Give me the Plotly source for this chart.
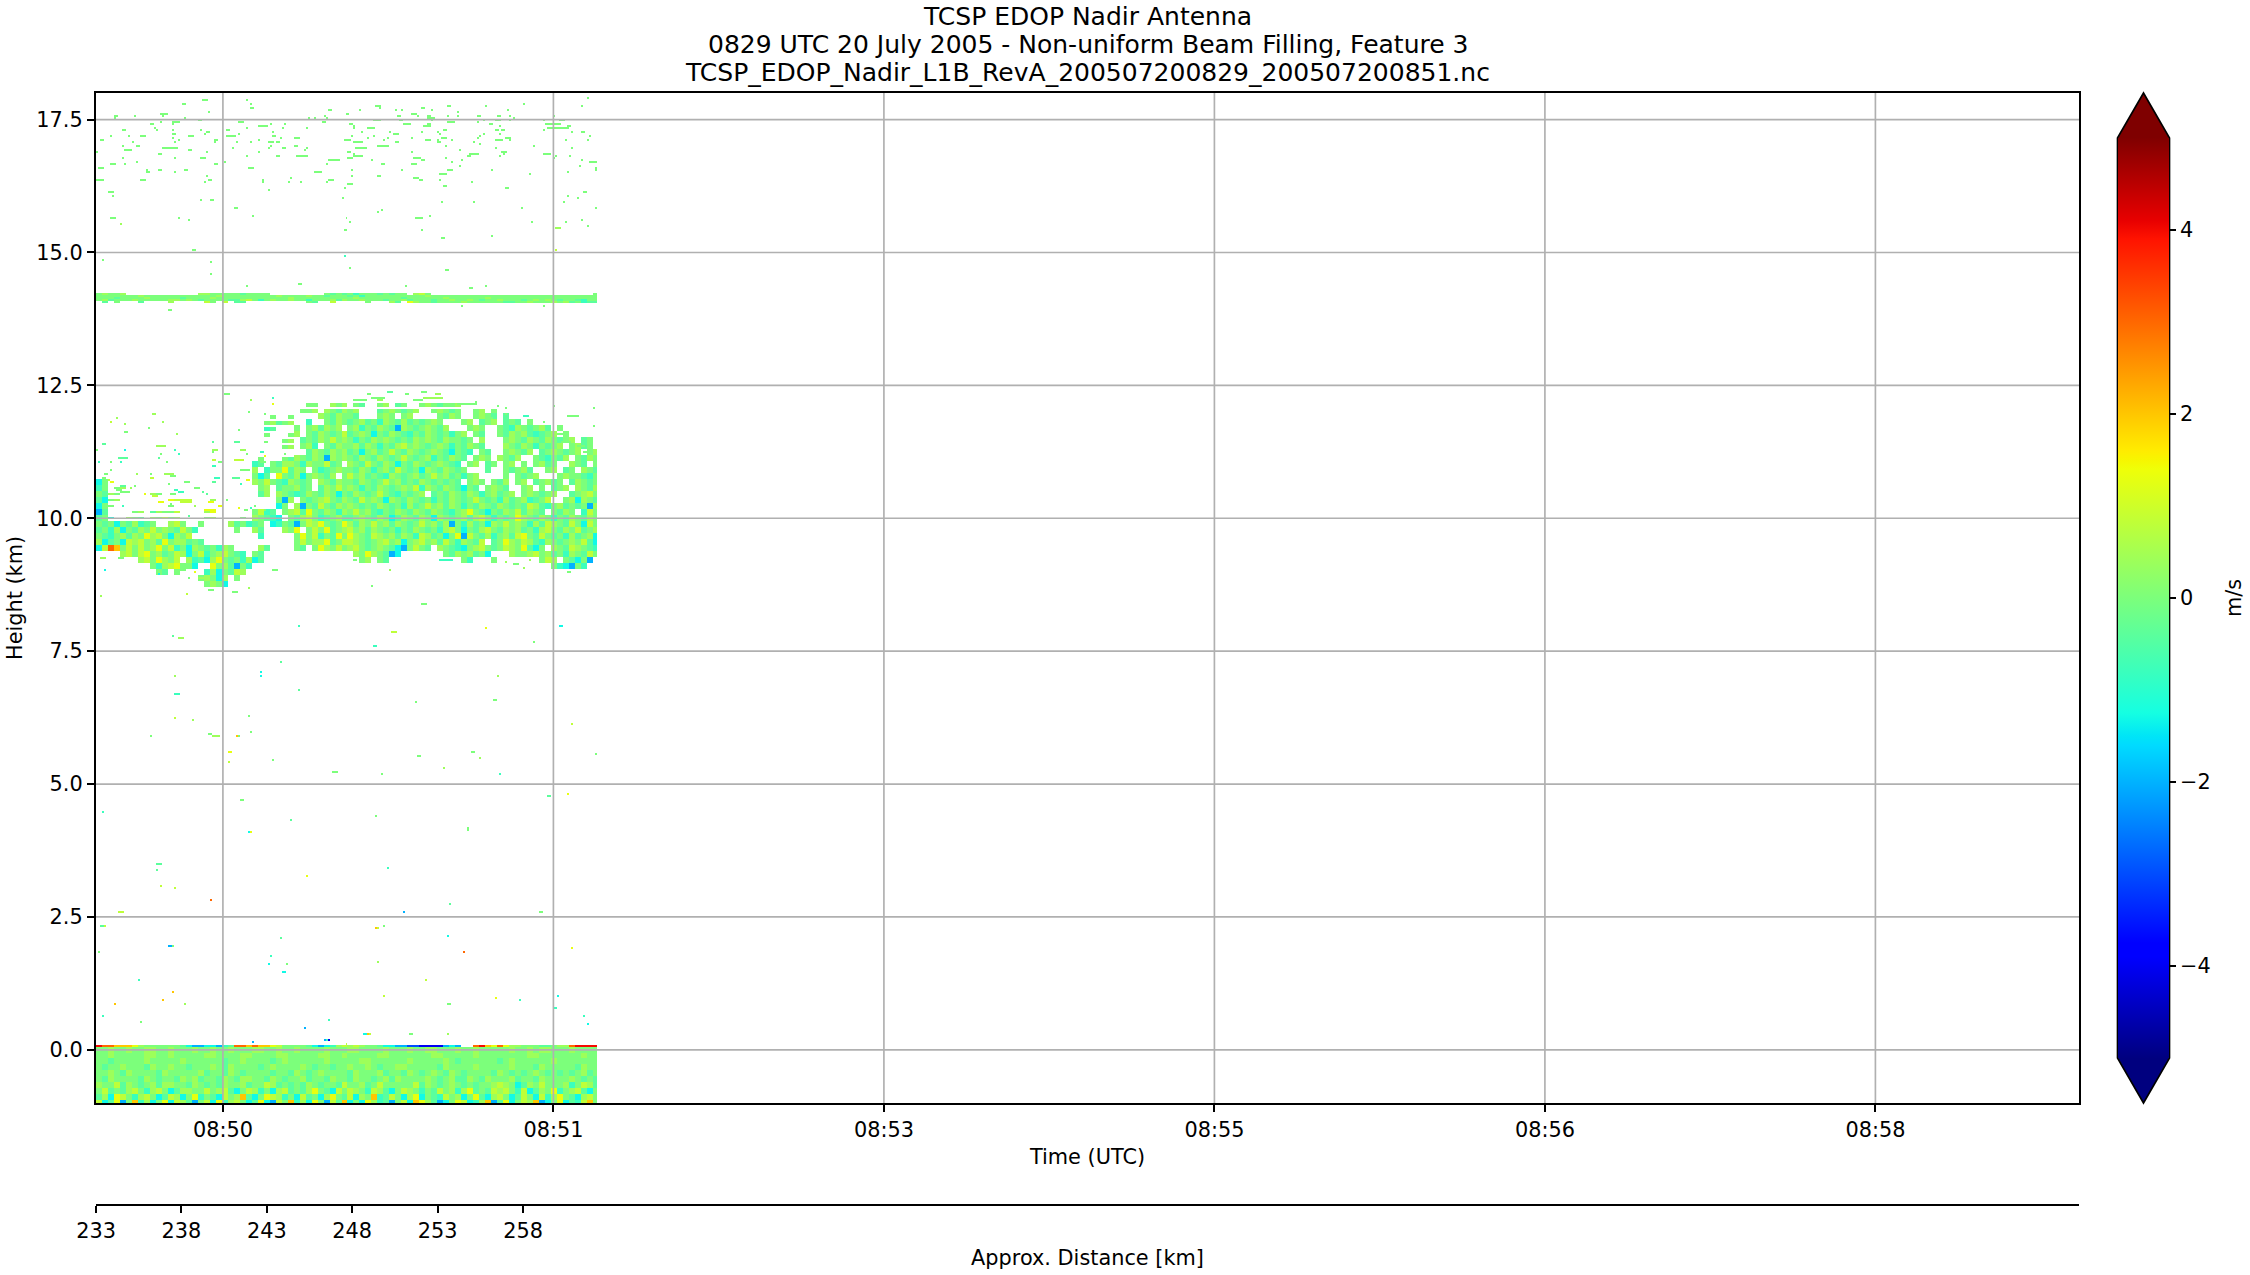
import numpy as np
import plotly.graph_objects as go

# ---- axis labels -----
TITLE_LINES = ["TCSP EDOP Nadir Antenna",
               "0829 UTC 20 July 2005 - Non-uniform Beam Filling, Feature 3",
               "TCSP_EDOP_Nadir_L1B_RevA_200507200829_200507200851.nc"]
TIME_TICK_SECONDS = [0, 100, 200, 300, 400, 500]
TIME_TICK_LABELS = ["08:50", "08:51", "08:53", "08:55", "08:56", "08:58"]
DIST_TICKS = [233, 238, 243, 248, 253, 258]
HEIGHT_TICKS = [0, 2.5, 5, 7.5, 10, 12.5, 15, 17.5]
CBAR_TICKS = [-4, -2, 0, 2, 4]

# ---- velocity codes, m/s, used by the tables below -----
CODE_VALUE = {"n": -4.0, "b": -3.0, "c": -2.0, "d": -1.3, "e": -0.8, "f": -0.4, "g": 0.0,
              "h": 0.4, "i": 0.8, "j": 1.3, "k": 2.0, "l": 3.0, "m": 4.0}

# Cloud body in blocks of 3 radar columns x 3 gates: (block row, block col, codes)
CLOUD_RUNS_LEFT = [
 (2,35,"gg"),(2,39,"hgh"),(3,34,"ggh"),(3,38,"hgfh"),(4,29,"g"),(4,32,"g"),(4,37,"hgfhg"),
 (5,28,"gh"),(5,30,"fgh"),(5,35,"e"),(5,38,"gfhg"),(6,28,"ef"),(6,33,"g"),(6,35,"gh"),(6,37,"fhgh"),
 (7,28,"g"),(7,32,"gh"),(7,35,"gfhgfgi"),(8,31,"g"),(8,32,"h"),(8,34,"fgfhgigh"),
 (9,31,"gh"),(9,34,"ghe"),(9,38,"gfhg"),(10,35,"fhgfhgh"),(11,27,"g"),(11,31,"gf"),(11,33,"hgfhgchgh"),
 (12,26,"ef"),(12,29,"gfh"),(12,32,"hgehg"),(12,37,"gifg"),(13,26,"h"),(13,28,"eg"),(13,30,"gjfhg.gefghg"),
 (14,26,"gdf"),(14,30,"jgfhdghgfh.g"),(15,26,"hgi"),(15,29,"gfehgfg.hgfhg"),(16,27,"gh"),(16,30,"fg"),(16,32,"ghfg.fhgig"),
 (17,27,"fh"),(17,30,"hgfefhgfhgdg"),(18,30,"gch.gfghigfh"),(19,30,"dg.hcgfigfhg"),(20,26,"gi"),(20,28,"ef"),(20,31,"ghifjgfhgeh"),
 (21,24,"g"),(21,26,"hgf"),(21,29,"ed"),(21,32,"gfhigefghf"),(22,22,"hfg"),(22,25,"ef"),(22,27,"g"),(22,29,"de"),(22,31,"gfcgihjgfgj"),
 (23,23,"g"),(23,26,"hf"),(23,31,"hgj.gigjfgh"),(24,27,"e"),(24,33,"gjgiegfjg"),(25,33,"gi"),(25,35,"gh"),(25,37,"hjfgi"),
 (26,27,"hf"),(26,33,"gf.gjhgig"),
 (15,0,"dg"),(16,0,"eg"),(16,3,"gh"),(17,0,"gf"),(17,2,"hg"),(17,9,"hg"),(18,0,"fd"),(18,2,"gh"),(18,12,"jhgi"),(18,19,"h"),
 (19,0,"dg"),(19,2,"g"),(19,12,"g"),(20,0,"cf"),(20,6,"gh"),(20,9,"fhg"),(20,12,"gi"),(20,18,"h"),(20,19,"j"),
 (21,0,"fgd"),(21,5,"hgf"),(21,9,"hgig"),(21,13,"h"),(21,18,"gh"),(22,0,"gfgdgfhe"),(22,8,"fg"),(22,12,"hie"),(22,14,"g"),(22,17,"g"),
 (23,0,"fgehdgfhgi"),(23,10,"ghgfig"),(23,16,"e"),(24,0,"gfeghfhgjhigdhgi"),(25,0,"hdfgdihighfjghhfg"),(25,17,"f"),
 (26,0,"di"),(26,2,"l"),(26,3,"kgigighjgiegdhg"),(26,18,"fgeh"),(26,22,"g"),(27,4,"higijghfgihdgieg"),(27,20,"hig"),(27,23,"fe.gf"),
 (28,7,"higjhgi.he"),(28,17,"fdhjg"),(28,22,"fgehd"),(28,27,"f"),(29,9,"gehijggd"),(29,19,"jghfcg"),(29,25,"e"),
 (30,10,"gf"),(30,13,"g"),(30,18,"e"),(30,19,"hdgfih"),(31,17,"g"),(31,18,"hgd"),(31,21,"h"),(31,23,"g"),(32,18,"ghgd"),
]
CLOUD_RUNS_RIGHT = [
 (2,"gf",43),(2,"gh",47),(2,"fg",50),(2,"ghgfggh",54),(3,"gh",42),(3,"fghgfgh",47),(3,"ghgfg",56),(3,"gh",63),(3,"g",66),
 (4,"gf",42),(4,"ghg",47),(4,"gh",51),(4,"gfhg",57),(4,"ghgf",63),(4,"f",68),
 (5,"fghfgehgfhfgfghg",42),(5,"gh",61),(5,"fgh",64),(5,"fgf",68),(5,"g",72),
 (6,"ghegfhgfchgfghgfh",42),(6,"ghg",62),(6,"gfehgfghf",67),(6,"g",77),
 (7,"fghgdgfhgfegfhgfgegh",42),(7,"gf",63),(7,"gfhghfefgh",67),(7,"g",78),
 (8,"gegfhghgfgfhghgfhggfg",42),(8,"h",64),(8,"ghgfhgfhgfgh",68),(8,"fg",81),
 (9,"ghfhgegfhighgfghgegfhgf",42),(9,"hgfhgegfgh",68),(9,"ghfg",79),
 (10,"fgdghfgigfhgfghgfdgfe",42),(10,"gf",64),(10,"ghgfh",68),(10,"fghgfgh",74),(10,"gh",82),
 (11,"gfhgfhgfgigfghegfhgf",42),(11,"ghg",63),(11,"hgfh",67),(11,"gfegfh",73),(11,"gfhg",80),
 (12,"hgfigfhgdgfhgfghgfe",42),(12,"gh",62),(12,"fg",65),(12,"gh",68),(12,"g",71),(12,"ghfg",73),(12,"hgf",79),(12,"g",83),
 (13,"gfhgeghfigfgdhgfhgfg",42),(13,"f",65),(13,"gfghf",68),(13,"gh",75),(13,"fg",78),(13,"hgf",81),
 (14,"ighfgfehgfghfgighfgegh",42),(14,"g",68),(14,"gfgh",70),(14,"ghg",77),(14,"gfeg",80),
 (15,"gfhgfgighfgfhgfgfgf",42),(15,"ghg",62),(15,"gfh",66),(15,"gh",70),(15,"fghfg",73),(15,"fhgfg",79),
 (16,"hgegfhgfghgiehgfhgfdgf",42),(16,"ghgf",65),(16,"gh",71),(16,"g",74),(16,"fgh",76),(16,"hgfh",80),
 (17,"fhgfgigfegfgh",42),(17,"fgfhgfhgeghfgh",56),(17,"ghgfgh",71),(17,"fghig",79),
 (18,"gfighgdhgfhgfgegfhgfgigfgehfghefgi",42),(18,"ghdhgf",78),
 (19,"hgfgfhgfgehfgighfhgegfhgfhgfgfihfeghfgfgch",42),
 (20,"gighfegfhgfhgfhgfeghjgfdgfhgifhgf",42),(20,"gfhg",76),(20,"eig",81),
 (21,"fghgfhgdfhgfhgdhgfghfhigegfgjhgfhgegfhgfhg",42),
 (22,"hfhgighfhgfgighfhcgehfgdhgighgehfihgfigdig",42),
 (23,"ighfhgfgegfhgfgehigdgfhigfhghfgehigfhgifgh",42),
 (24,"jhgfihghfhgeihfgdgjcigfheghfijgfigfgehfghd",42),
 (25,"ihgfghighdghighfigehgfi",42),(25,"fgjhgihfehgfghgifd",66),
 (26,"higfghgfdcgigf",42),(26,"hgfedghigfgihgjfdg",57),(26,"hgfihgfe",76),
 (27,"hgjhgfcd",43),(27,"gfhghfgd",58),(27,"hgghighfgehgfig",69),
 (28,"gh",44),(28,"gf",47),(28,"ge",61),(28,"g",66),(28,"gih",74),(28,"gfdgc",78),
 (29,"gedcge",76),
]

# Ground return: one block row per list, top to bottom; each character is 3 radar columns
GROUND_STRIP = "mllkkkjhggggggfdccddcefllklkkjiggggfdcdehihihggfddccbbnnnncdc..lmkjljhhgggffghhlmmmmg"
GROUND_ROWS = [
 "gghgghgghhgghggghgghgghggghhgghgghgggghggghhgggghggghgghhggghgghggggghgghghhggghgggg",
 "gghggggghhgghggggghhgggghhgggghhggggghhgghggggghhggggggghhggggghgggggggghhggggggghgg",
 "ggfggggghggggghggggggfgghggggfghgggggghggggghhgggggghggggghgfggggggfghgggggghggggggg",
 "gfgghgggfhgghggfggghgfhggggfghgggghgfggfgghgghgfgghhgggggfhgggghggggghgggfhgggggfhgg",
 "gghgfhggggfhggggghfggfhgfggggfggfhgfghggggfhggghfggfhgfghgfhgfggggfhgfgfghgfgfgfghfg",
 "gfhggggfhgfggfhghfggfhgfhhggfhgfgghfggfhggfhggfghfhgggghgfghffhgfhggghfggfhgggghgfgf",
 "hggifhgfghfhhggfhgfgfhgghfggihfgfgfhgfggfigghfgigggggifhgfghgfgfgghihgdfhgiggghegihf",
 "gifgfhigehigdfhhggighifdgihegdhifgfhjgfdigihgeihfdgihgegfighehjfgfihigeidfhgjeghifdg",
 "fhdjigehigdfihdgjegfdighkfdgjihegdifgdhjgfidhgkefigdhjdgfeighdgjfdhigdfigdiehjgfdhig",
 "idfjcgkehdgjdihfcgidjehigdfjdcigkehdjgcifkdgdjhefcgidkjhfcdgjidehkcfjdgihkcdgjdfeikg",
]

# Ice-cloud band near 14.2 km: one list per gate, each character is 3 radar columns
ANVIL_GATE_378 = "ghggh............hhgggggfgggg.........gfgfgegggfgfgg.hig...........................gg"
ANVIL_GATE_377 = "ggggggghgggggggggggghggggggggghgggghggfgggfgegggggggggghgggggggggggggggggggggggggggg"
ANVIL_GATE_376 = "gggfgggghgggggfgggghgggggggggggghgggggggggghgggggggfgggggghgggggghgggggggggggggggggg"
ANVIL_GATE_375 = "ghfggghggggghhghgfggggffhigeghgghggeggghfhgghgggfgghfgggfgghgghgfgghgggfghghgfggfegg"
ANVIL_GATE_374 = ".f.g...f....h.....ig.i.ff..........gf..i.....g...hf.jhggfgggghggggggffgghggghghfgeff"

# Isolated returns as (radar column, gate, run length); all near 0 m/s
HIGH_SPECKS = [
 (43,473,2),(53,475,3),(56,469,1),(75,475,1),(77,473,1),(77,471,2),(9,467,2),(9,466,1),(19,467,1),(32,468,4),(33,467,1),(44,466,1),
 (51,465,2),(27,463,2),(32,464,1),(38,464,4),(13,460,2),(29,461,1),(30,460,1),(38,463,1),(38,460,1),(38,458,2),(52,460,1),(55,459,2),
 (54,458,1),(46,457,3),(22,457,3),(16,457,1),(7,457,1),(2,455,2),(38,456,1),(41,455,1),(18,454,1),(13,452,1),(39,454,1),(20,452,2),
 (33,451,8),(14,450,4),(46,450,2),(59,455,2),(59,454,1),(55,449,1),(31,448,2),(0,449,1),(13,446,1),(39,446,1),(52,446,3),(20,444,1),
 (7,443,3),(14,443,1),(59,443,2),(1,441,3),(25,440,1),(25,439,2),(31,440,2),(39,439,1),(44,440,2),(55,437,1),(0,435,4),(22,435,3),
 (56,435,2),(54,434,1),(6,429,3),(8,427,1),(52,425,1),(57,425,2),(7,416,3),(41,416,1),(46,415,1),(48,400,2),(3,395,1),(57,394,1),
 (57,388,1),(36,370,2),(65,460,2),(65,457,5),(71,464,3),(75,461,1),(71,458,1),(81,462,5),(87,463,1),(94,463,1),(88,459,1),(93,461,1),
 (88,457,2),(105,461,1),(81,455,1),(70,454,1),(77,454,1),(86,454,3),(92,456,1),(99,456,3),(90,454,2),(87,452,1),(86,451,1),(68,451,1),
 (93,451,2),(99,452,2),(105,451,1),(104,450,1),(81,449,1),(75,447,1),(90,447,2),(100,447,6),(64,444,1),(76,441,3),(109,439,4),(97,436,1),
 (83,435,1),(83,434,1),(96,434,1),(102,434,1),(86,430,1),(106,466,1),(109,466,1),(113,464,2),(116,470,2),(115,466,1),(114,467,1),
 (125,468,2),(132,470,1),(140,472,3),(142,471,1),(139,465,4),(150,470,1),(153,470,1),(151,467,2),(152,465,2),(158,468,3),(161,467,1),
 (163,471,2),(168,470,1),(176,472,2),(166,467,2),(166,466,4),(168,465,1),(176,467,1),(181,469,1),(181,467,1),(191,467,2),(195,472,1),
 (194,465,1),(200,465,3),(201,467,2),(207,467,1),(206,470,1),(207,465,1),(209,466,1),(214,473,1),(229,467,1),(224,465,1),(232,465,3),
 (243,472,1),(246,476,1),(127,463,2),(129,462,1),(129,461,1),(136,461,4),(133,459,1),(128,457,1),(124,455,4),(129,454,5),(136,456,1),
 (139,457,1),(144,455,1),(146,456,1),(147,459,1),(149,458,3),(150,454,2),(141,452,6),(130,451,6),(126,449,2),(129,448,1),(129,447,5),
 (126,446,3),(116,445,6),(138,445,1),(143,443,2),(115,443,1),(128,440,1),(128,437,1),(116,435,3),(115,434,1),(126,433,3),(124,431,1),
 (123,426,1),(141,437,2),(141,419,1),(143,420,1),(125,416,1),(127,414,1),(124,410,2),(127,391,1),(101,383,2),(75,382,1),(78,417,1),
 (69,421,2),(155,382,1),(175,390,2),(187,381,2),(195,382,1),(163,410,1),(173,406,2),(198,407,1),(183,372,1),(224,372,1),(154,463,4),
 (164,462,4),(166,463,2),(176,464,4),(191,464,1),(197,463,2),(174,460,2),(163,459,1),(171,459,1),(172,458,1),(173,456,3),(158,456,1),
 (165,455,3),(171,454,2),(171,455,1),(175,452,1),(178,455,1),(182,450,1),(158,449,1),(159,446,4),(163,445,2),(158,443,3),(175,446,1),
 (178,444,1),(182,442,1),(183,445,1),(176,440,3),(153,440,1),(172,438,4),(159,436,3),(162,435,2),(172,435,1),(174,432,2),(173,424,1),
 (160,416,4),(167,417,1),(189,424,1),(213,421,1),(218,414,1),(186,447,2),(187,448,5),(188,434,1),(205,431,2),(189,454,1),(191,456,1),
 (192,457,1),(194,458,1),(192,453,1),(198,440,1),(200,460,2),(202,462,1),(202,458,1),(203,460,2),(200,455,4),(205,456,3),(207,455,1),
 (200,451,1),(203,449,3),(202,447,1),(204,448,1),(217,438,1),(219,452,1),(224,448,4),(225,463,8),(226,461,11),(224,460,1),(236,462,2),
 (238,459,1),(243,459,2),(247,457,1),(246,455,1),(235,455,1),(238,451,1),(230,447,1),(229,446,1),(237,447,1),(247,444,4),(243,445,1),
 (242,442,1),(250,441,1),(250,440,1),(236,439,1),(244,429,2),(236,427,1),(241,426,1),(234,424,1),(250,421,1),(243,415,1),(246,412,1),(235,414,1),
]

# Isolated returns with their own colour: (radar column, gate, run length, code)
COLOURED_SPECKS = [
 (12,413,1,"h"),(124,397,1,"e"),(230,411,3,"h"),(230,400,1,"i"),
 (38,207,1,"f"),(41,206,3,"h"),(101,212,1,"e"),(148,209,3,"i"),(139,202,2,"e"),(195,211,1,"j"),(219,204,1,"g"),(232,212,2,"d"),
 (92,194,1,"f"),(82,189,1,"d"),(82,187,1,"d"),(39,187,1,"h"),(39,178,3,"e"),(101,180,1,"f"),(201,187,1,"h"),(199,175,2,"g"),(160,174,1,"g"),
 (39,166,1,"i"),(48,165,1,"h"),(76,167,1,"g"),(27,157,1,"g"),(56,158,2,"g"),(58,157,4,"h"),(70,157,1,"k"),(71,157,1,"g"),(77,159,1,"g"),
 (238,163,1,"i"),(66,149,2,"j"),(66,144,1,"i"),(88,145,1,"g"),(118,139,3,"g"),(143,138,1,"g"),(161,147,2,"g"),(188,149,2,"g"),(192,146,1,"h"),
 (174,141,1,"h"),(202,138,1,"e"),(250,148,1,"g"),(72,125,2,"g"),(3,119,1,"e"),(97,115,1,"f"),(140,117,1,"g"),(186,110,1,"g"),(186,111,1,"g"),
 (76,109,1,"d"),(77,109,1,"j"),(226,127,2,"f"),(236,128,1,"j"),(30,93,3,"f"),(30,90,1,"f"),(32,82,1,"i"),(39,81,1,"i"),(57,75,1,"l"),(105,87,1,"j"),
 (146,91,1,"e"),(177,73,1,"f"),(154,69,1,"c"),(222,69,2,"g"),(11,69,3,"i"),(2,62,2,"f"),(4,62,1,"i"),(140,61,1,"k"),(141,61,1,"i"),(144,62,1,"g"),
 (176,57,1,"d"),(92,56,1,"f"),(36,52,2,"c"),(38,52,1,"g"),(1,49,1,"g"),(184,49,1,"l"),(238,51,1,"j"),(87,47,1,"e"),(86,43,1,"d"),(95,43,1,"g"),
 (93,39,2,"d"),(141,44,1,"h"),(165,35,1,"i"),(21,35,1,"e"),(38,29,1,"k"),(33,25,1,"k"),(9,23,1,"k"),(44,23,1,"h"),(144,27,1,"i"),(176,23,2,"g"),
 (200,26,1,"j"),(212,25,1,"e"),(231,27,1,"d"),(229,21,2,"e"),(244,17,1,"e"),(246,13,1,"d"),(3,17,1,"e"),(22,14,1,"g"),(116,15,1,"e"),(104,11,1,"c"),
 (134,8,2,"d"),(136,8,1,"k"),(137,8,1,"i"),(157,8,2,"g"),(176,8,1,"h"),(114,5,1,"c"),(115,5,1,"e"),(116,5,1,"n"),(125,3,1,"i"),(78,4,1,"c"),
 (64,328,3,"g"),(88,326,1,"e"),(88,323,1,"j"),(77,325,1,"h"),(28,318,2,"h"),(76,319,1,"g"),(84,318,1,"g"),(10,316,1,"h"),(7,314,1,"i"),(14,313,1,"h"),
 (33,314,1,"h"),(26,311,1,"g"),(14,309,2,"g"),(40,308,1,"h"),(71,310,1,"g"),(58,304,1,"f"),(3,303,2,"f"),(30,302,5,"h"),(69,304,3,"f"),(84,304,2,"g"),
 (39,300,1,"e"),(14,300,1,"d"),(58,300,3,"h"),(72,300,3,"h"),(82,299,2,"e"),(32,298,1,"g"),(41,298,1,"e"),(58,299,1,"g"),(75,298,1,"g"),(94,298,1,"g"),
 (0,300,1,"g"),(11,296,5,"f"),(31,296,1,"f"),(58,295,2,"i"),(69,295,5,"i"),(84,297,1,"j"),(1,294,1,"e"),(7,294,1,"g"),(12,294,1,"e"),(35,294,1,"g"),
 (61,294,2,"g"),(58,292,2,"e"),(82,294,3,"g"),(72,290,5,"g"),(7,290,1,"g"),(4,288,2,"g"),(20,288,1,"h"),(27,288,1,"g"),(34,288,5,"h"),(37,287,3,"g"),
 (59,286,3,"e"),(27,286,2,"i"),(3,286,2,"g"),(6,285,1,"i"),(7,284,2,"j"),(44,284,3,"g"),(36,283,1,"g"),(58,284,2,"f"),(68,286,4,"f"),(72,283,1,"e"),
 (75,285,2,"j"),(12,282,3,"f"),(19,282,1,"g"),(17,281,1,"h"),(49,281,3,"g"),(39,280,2,"e"),(10,280,3,"g"),(12,279,5,"g"),(41,279,3,"e"),(53,279,1,"f"),
 (55,278,1,"f"),(37,278,3,"g"),(24,278,1,"j"),(28,277,3,"i"),(31,274,3,"j"),(39,275,6,"i"),(37,273,1,"g"),(42,274,6,"i"),(56,274,3,"j"),(65,275,1,"g"),
 (49,272,1,"h"),(13,272,1,"e"),(61,272,2,"j"),(79,272,1,"g"),(71,271,1,"j"),(77,271,1,"e"),(84,270,1,"g"),(54,270,6,"j"),(46,267,1,"f"),(74,270,2,"g"),
 (88,240,3,"g"),(56,230,3,"g"),(68,229,3,"g"),(2,227,1,"h"),(45,228,1,"i"),(76,231,1,"h"),(51,236,3,"h"),(46,236,1,"g"),(31,238,1,"d"),(2,246,3,"h"),
 (11,246,3,"g"),(4,240,1,"d"),(41,240,4,"g"),(49,239,1,"j"),(146,329,3,"f"),(136,328,2,"g"),(155,328,2,"g"),(163,329,3,"g"),(170,328,3,"h"),
 (138,326,7,"g"),(164,326,10,"h"),(129,325,7,"g"),(159,325,5,"g"),(141,325,3,"h"),(181,323,10,"g"),(190,324,1,"g"),(201,322,1,"g"),(205,321,1,"g"),
 (229,322,1,"g"),(249,321,1,"g"),(236,317,6,"g"),(205,318,1,"g"),(198,316,1,"g"),(214,317,3,"e"),(224,314,1,"g"),(249,312,1,"g"),(231,308,4,"g"),
 (233,304,5,"g"),(241,302,4,"g"),(244,299,2,"g"),(129,245,2,"g"),(172,245,7,"e"),(209,243,3,"g"),(205,244,1,"h"),(214,241,1,"h"),(147,240,1,"h"),
 (138,232,1,"g"),(163,223,3,"g"),(236,239,2,"g"),(217,245,1,"h"),
]

# ---- style and layout constants (pixels of the 2250x1275 page) ----
WIDTH, HEIGHT_PX = 2250, 1275
PLOT_L, PLOT_R, PLOT_T, PLOT_B, DIST_AXIS_Y = 96, 2079, 93, 1103, 1205
CBAR_L, CBAR_R, CBAR_T, CBAR_B, CBAR_TIP = 2118, 2169, 138, 1058, 45
TITLE_Y = [16, 44.5, 73]
FONT = "DejaVu Sans"
FS, FS_TITLE = 20.83, 25
LW = 1.67
COLUMN_SECONDS, GATE_KM = 0.604, 0.0376
NCOL, GATE_MIN, GATE_MAX = 251, -27, 480
TIME_RANGE = [-38.4, 561.6]
DIST_RANGE = [233, 349.1]
HEIGHT_RANGE = [-1, 18]

# matplotlib 'jet' breakpoints
JET_R = [(0, 0), (0.35, 0), (0.66, 1), (0.89, 1), (1, 0.5)]
JET_G = [(0, 0), (0.125, 0), (0.375, 1), (0.64, 1), (0.91, 0), (1, 0)]
JET_B = [(0, 0.5), (0.11, 1), (0.34, 1), (0.65, 0), (1, 0)]
knots = sorted({p for c in (JET_R, JET_G, JET_B) for p, _ in c})
def _chan(c, p):
    return int(round(255 * np.interp(p, [a for a, _ in c], [b for _, b in c])))
JET = [[p, f"rgb({_chan(JET_R, p)},{_chan(JET_G, p)},{_chan(JET_B, p)})"] for p in knots]

# ---- assemble the radar grid from the tables ----
z = np.full((GATE_MAX - GATE_MIN + 1, NCOL), np.nan)
def put(col, gate, code):
    if code in CODE_VALUE and 0 <= col < NCOL and GATE_MIN <= gate <= GATE_MAX:
        z[gate - GATE_MIN, col] = CODE_VALUE[code]
def put_block(block_col, gates, code):
    for g in gates:
        for c in range(3 * block_col, 3 * block_col + 3):
            put(c, g, code)
def cloud_gates(row, block_col):
    # the sparse fringe of the cloud is only one or two gates deep, as the dashes in the picture
    base = 328 - 3 * row
    if row <= 3:
        return [base, base + 1]
    if row <= 21 and 2 <= block_col < 26:
        return [base + 1]
    if row <= 11 and 26 <= block_col < 33:
        return [base, base + 1]
    return [base, base + 1, base + 2]

for (row, start, codes) in CLOUD_RUNS_LEFT:
    for k, code in enumerate(codes):
        put_block(start + k, cloud_gates(row, start + k), code)
for (row, codes, start) in CLOUD_RUNS_RIGHT:
    for k, code in enumerate(codes):
        put_block(start + k, cloud_gates(row, start + k), code)
for k, code in enumerate(GROUND_STRIP):
    put_block(k, [2], code)
for r, text in enumerate(GROUND_ROWS):
    for k, code in enumerate(text):
        put_block(k, range(-1 - 3 * r, 2 - 3 * r), code)
for gate, text in zip([378, 377, 376, 375, 374],
                      [ANVIL_GATE_378, ANVIL_GATE_377, ANVIL_GATE_376, ANVIL_GATE_375, ANVIL_GATE_374]):
    for k, code in enumerate(text):
        put_block(k, [gate], code)
for col, gate, n in HIGH_SPECKS:
    for c in range(col, col + n):
        put(c, gate, "g")
for col, gate, n, code in COLOURED_SPECKS:
    for c in range(col, col + n):
        put(c, gate, code)

time_axis = [TIME_RANGE[0] + (i + 0.5) * COLUMN_SECONDS for i in range(NCOL)]
gate_axis = [g * GATE_KM for g in range(GATE_MIN, GATE_MAX + 1)]

# ---- figure ----
frame_h = DIST_AXIS_Y - PLOT_T
frame_w = PLOT_R - PLOT_L
def fx(px):
    return (px - PLOT_L) / frame_w
def fy(py):
    return (DIST_AXIS_Y - py) / frame_h

fig = go.Figure()
fig.add_trace(go.Heatmap(
    x=time_axis, y=gate_axis, z=z.tolist(), zmin=-5, zmax=5, colorscale=JET, zsmooth=False,
    hoverongaps=False, xaxis="x", yaxis="y",
    colorbar=dict(
        thickness=CBAR_R - CBAR_L, thicknessmode="pixels", len=CBAR_B - CBAR_T, lenmode="pixels",
        x=fx(CBAR_L), xanchor="left", xref="paper", y=fy((CBAR_T + CBAR_B) / 2), yanchor="middle", yref="paper",
        xpad=0, ypad=0, outlinewidth=0, borderwidth=0,
        tickmode="array", tickvals=CBAR_TICKS, ticks="outside", ticklen=7.3, tickwidth=LW, tickcolor="black",
        tickfont=dict(family=FONT, size=FS, color="black"),
    ),
))
# carries the lower distance axis
fig.add_trace(go.Scatter(x=DIST_TICKS, y=[None] * len(DIST_TICKS), xaxis="x2", yaxis="y",
                         mode="lines", showlegend=False, hoverinfo="skip"))

shapes = []
for t in TIME_TICK_SECONDS:
    shapes.append(dict(type="line", xref="x", yref="y", x0=t, x1=t, y0=HEIGHT_RANGE[0], y1=HEIGHT_RANGE[1],
                       line=dict(color="#b0b0b0", width=LW), layer="above"))
for h in HEIGHT_TICKS:
    shapes.append(dict(type="line", xref="x", yref="y", x0=TIME_RANGE[0], x1=TIME_RANGE[1], y0=h, y1=h,
                       line=dict(color="#b0b0b0", width=LW), layer="above"))
# colour-bar end arrows and the outline around bar and arrows together
xm = (CBAR_L + CBAR_R) / 2
shapes.append(dict(type="path", xref="paper", yref="paper", fillcolor="#7f0000", line=dict(width=0),
                   path=f"M {fx(CBAR_L)} {fy(CBAR_T)} L {fx(xm)} {fy(CBAR_T - CBAR_TIP)} L {fx(CBAR_R)} {fy(CBAR_T)} Z"))
shapes.append(dict(type="path", xref="paper", yref="paper", fillcolor="#00007f", line=dict(width=0),
                   path=f"M {fx(CBAR_L)} {fy(CBAR_B)} L {fx(xm)} {fy(CBAR_B + CBAR_TIP)} L {fx(CBAR_R)} {fy(CBAR_B)} Z"))
shapes.append(dict(type="path", xref="paper", yref="paper", line=dict(color="black", width=LW),
                   path=(f"M {fx(CBAR_L - 0.5)} {fy(CBAR_T)} L {fx(xm)} {fy(CBAR_T - CBAR_TIP)} L {fx(CBAR_R + 0.5)} {fy(CBAR_T)} "
                         f"L {fx(CBAR_R + 0.5)} {fy(CBAR_B)} L {fx(xm)} {fy(CBAR_B + CBAR_TIP)} L {fx(CBAR_L - 0.5)} {fy(CBAR_B)} Z")))

axis_common = dict(showgrid=False, zeroline=False, ticks="outside", ticklen=7.3, tickwidth=LW, tickcolor="black",
                   linecolor="black", linewidth=LW, tickfont=dict(family=FONT, size=FS, color="black"))
title_notes = [dict(text=line, xref="paper", yref="paper", x=0.5, y=fy(y), showarrow=False, xanchor="center",
                    yanchor="middle", font=dict(family=FONT, size=FS_TITLE, color="black"))
               for line, y in zip(TITLE_LINES, TITLE_Y)]
fig.update_layout(
    width=WIDTH, height=HEIGHT_PX, paper_bgcolor="white", plot_bgcolor="white", showlegend=False,
    margin=dict(l=PLOT_L, r=WIDTH - PLOT_R, t=PLOT_T, b=HEIGHT_PX - DIST_AXIS_Y, pad=0, autoexpand=False),
    font=dict(family=FONT, size=FS, color="black"),
    xaxis=dict(axis_common, domain=[0, 1], range=TIME_RANGE, anchor="y", mirror=True, tickmode="array",
               tickvals=TIME_TICK_SECONDS, ticktext=TIME_TICK_LABELS,
               title=dict(text="Time (UTC)", standoff=8, font=dict(family=FONT, size=FS))),
    xaxis2=dict(axis_common, domain=[0, 1], range=DIST_RANGE, anchor="free", position=0, overlaying="x", side="bottom",
                tickmode="array", tickvals=DIST_TICKS, ticktext=[str(d) for d in DIST_TICKS],
                title=dict(text="Approx. Distance [km]", standoff=7, font=dict(family=FONT, size=FS))),
    yaxis=dict(axis_common, domain=[fy(PLOT_B), 1], range=HEIGHT_RANGE, anchor="x", mirror=True, tickmode="array",
               tickvals=HEIGHT_TICKS, ticktext=[f"{h:.1f}" for h in HEIGHT_TICKS],
               title=dict(text="Height (km)", standoff=8, font=dict(family=FONT, size=FS))),
    shapes=shapes,
    annotations=title_notes + [dict(text="m/s", xref="paper", yref="paper", x=fx(2234), y=fy(598), showarrow=False, textangle=-90,
                      xanchor="center", yanchor="middle", font=dict(family=FONT, size=FS, color="black"))],
)
fig.write_html("out.html", config={"displayModeBar": False}, post_script="document.body.style.margin='0';")
